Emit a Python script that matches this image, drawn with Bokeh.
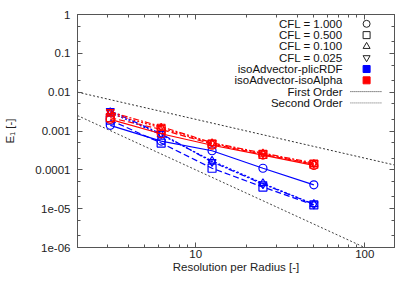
import math
from bokeh.plotting import figure
from bokeh.models import FixedTicker, CustomJSTickFormatter, LogAxis
from bokeh.core.properties import value
from bokeh.embed import file_html
from bokeh.resources import INLINE

# ---- data ----
res = [3.125, 6.25, 12.5, 25, 50]
cfl_labels = ["CFL = 1.000", "CFL = 0.500", "CFL = 0.100", "CFL = 0.025"]
plic_cfl1 = [0.0014, 0.00055, 0.00031, 0.00011, 4.1e-5]
plic_cfl05 = [0.0019, 0.00049, 0.00011, 3.6e-5, 1.25e-5]
plic_cfl01 = [0.0030, 0.00080, 0.00017, 4.5e-5, 1.3e-5]
plic_cfl0025 = [0.0033, 0.00085, 0.00016, 4.3e-5, 1.3e-5]
iso_cfl1 = [0.0020, 0.00085, 0.00043, 0.00024, 0.00013]
iso_cfl05 = [0.0022, 0.0011, 0.00046, 0.00025, 0.00014]
iso_cfl01 = [0.0028, 0.0012, 0.00048, 0.00026, 0.00014]
iso_cfl0025 = [0.0031, 0.0013, 0.00050, 0.00027, 0.00015]
ref_x = [2, 150]
first_order = [0.01, 1.3333e-4]
second_order = [0.0025, 4.444e-7]
method_labels = ["isoAdvector-plicRDF", "isoAdvector-isoAlpha"]
ref_labels = ["First Order", "Second Order"]
xtick_vals = [10, 100]
xtick_labels = ["10", "100"]
xminor = [3, 4, 5, 6, 7, 8, 9, 20, 30, 40, 50, 60, 70, 80, 90]
ytick_vals = [1, 0.1, 0.01, 0.001, 0.0001, 1e-5, 1e-6]
ytick_labels = ["1", "0.1", "0.01", "0.001", "0.0001", "1e-05", "1e-06"]
yminor = [m * 10.0 ** e for e in range(-6, 0) for m in (2, 5)]

FONT = "Liberation Sans"
FS = "11.5px"
XR = (2, 150)
YR = (1e-6, 1)
W, H = 399, 275
BL, BR, BT, BB = 77, 5, 14, 10

p = figure(width=W, height=H, x_axis_type="log", y_axis_type="log",
           x_range=XR, y_range=YR, output_backend="svg", toolbar_location=None,
           min_border_left=BL, min_border_right=BR, min_border_top=BT,
           min_border_bottom=BB)
p.xgrid.grid_line_color = None
p.ygrid.grid_line_color = None
p.outline_line_color = "#555555"
p.background_fill_color = "white"
p.border_fill_color = "white"

code = """
for (let i = 0; i < vals.length; i++) {
  if (Math.abs(Math.log10(vals[i]) - Math.log10(tick)) < 1e-6) return labs[i];
}
return '';
"""
xfmt = CustomJSTickFormatter(args=dict(vals=xtick_vals, labs=xtick_labels), code=code)
yfmt = CustomJSTickFormatter(args=dict(vals=ytick_vals, labs=ytick_labels), code=code)
xt = FixedTicker(ticks=xtick_vals, minor_ticks=xminor)
yt = FixedTicker(ticks=ytick_vals, minor_ticks=yminor)

def style(ax, show_labels):
    ax.axis_line_color = "#555555"
    ax.major_tick_line_color = "#555555"
    ax.minor_tick_line_color = "#555555"
    ax.major_tick_in = 5
    ax.major_tick_out = 0
    ax.minor_tick_in = 3
    ax.minor_tick_out = 0
    ax.major_label_text_font = FONT
    ax.major_label_text_font_size = FS
    ax.major_label_text_color = "#222222" if show_labels else None
    ax.axis_label_text_font = FONT
    ax.axis_label_text_font_size = FS
    ax.axis_label_text_font_style = "normal"
    ax.axis_label_text_color = "#222222"

p.xaxis.ticker = xt
p.xaxis.formatter = xfmt
p.yaxis.ticker = yt
p.yaxis.formatter = yfmt
p.xaxis.axis_label = "Resolution per Radius [-]"
p.yaxis.axis_label = "E\u2081 [-]"
for ax in p.xaxis + p.yaxis:
    style(ax, True)
p.xaxis.major_label_standoff = 2
p.xaxis.axis_label_standoff = 0
p.yaxis.major_label_standoff = 7
p.yaxis.axis_label_standoff = 16

top = LogAxis(ticker=xt, formatter=xfmt)
right = LogAxis(ticker=yt, formatter=yfmt)
for ax in (top, right):
    style(ax, False)
    ax.major_label_text_font_size = "0px"
    ax.major_label_standoff = 0
p.add_layout(top, "above")
p.add_layout(right, "right")

lx0, lx1 = math.log10(XR[0]), math.log10(XR[1])

def dx(f):
    return 10 ** (lx0 + f * (lx1 - lx0))

def dy(f):
    return 10 ** (0 - f * 6)

# reference slopes
p.line(ref_x, first_order, line_color="#333333", line_width=1, line_dash="2 2")
p.line(ref_x, second_order, line_color="#444444", line_width=1, line_dash="2 2")

dashes = ["solid", "6 3", "2 2", "6 2 2 2"]
markers = ["circle", "square", "triangle", "inverted_triangle"]
series = [
    ("#0000ff", [plic_cfl1, plic_cfl05, plic_cfl01, plic_cfl0025]),
    ("#ff0000", [iso_cfl1, iso_cfl05, iso_cfl01, iso_cfl0025]),
]
for color, sets in series:
    for vals, dash, mk in zip(sets, dashes, markers):
        p.line(res, vals, line_color=color, line_width=1.2, line_dash=dash)
        p.scatter(res, vals, marker=mk, size=8, line_color=color,
                  fill_color=None, line_width=1.2)

# legend (gnuplot style: text left, sample right), positions as frame fractions
rows = [0.040 + 0.0485 * i for i in range(8)]
texts = cfl_labels + method_labels + ref_labels
p.text([dx(0.836)] * 8, [dy(r) for r in rows], text=texts, text_align="right",
       text_baseline="middle", text_font=value(FONT), text_font_size=FS,
       text_color="#111111")
for r, mk in zip(rows[:4], markers):
    p.scatter([dx(0.912)], [dy(r)], marker=mk, size=7, line_color="#222222",
              fill_color=None, line_width=1)
for r, c in zip(rows[4:6], ["#0000ff", "#ff0000"]):
    p.scatter([dx(0.912)], [dy(r)], marker="square", size=7, line_color=c,
              fill_color=c)
for r, c in zip(rows[6:8], ["#333333", "#666666"]):
    p.line([dx(0.861), dx(0.959)], [dy(r), dy(r)], line_color=c, line_width=1,
           line_dash="1 1")

open("out.html", "w").write(file_html(p, INLINE))
